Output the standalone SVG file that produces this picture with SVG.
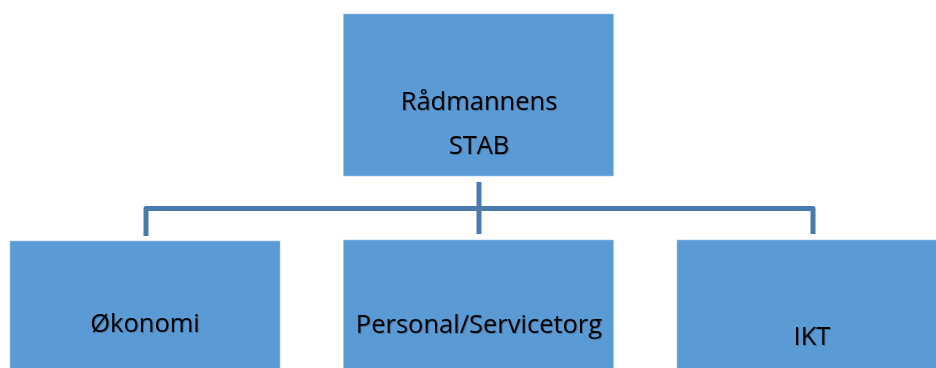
<svg xmlns="http://www.w3.org/2000/svg" width="936" height="368" viewBox="0 0 936 368">
<defs>
<filter id="sh" x="-5%" y="-20%" width="110%" height="140%">
<feDropShadow dx="0.8" dy="0.8" stdDeviation="0.6" flood-color="#000" flood-opacity="0.35"/>
</filter>
</defs>
<style>
.box{fill:#5B9BD5;stroke:#9DC3E6;stroke-width:0.6}
.lbl{font-family:"Open Sans","Liberation Sans",sans-serif;font-size:25.5px;fill:#000;text-anchor:middle;filter:url(#sh)}
.con{fill:none;stroke:#4A7AAB;stroke-width:5;stroke-linejoin:round}
</style>
<rect width="936" height="368" fill="#fff"/>
<g id="connectors">
<path class="con" d="M146 236 V208.5 H813 V234"/>
<path class="con" d="M479 182 V234"/>
</g>
<g id="node-stab">
<rect class="box" x="343.5" y="14" width="270" height="162"/>
<text class="lbl" x="479" y="110">Rådmannens</text>
<text class="lbl" x="479" y="154">STAB</text>
</g>
<g id="node-okonomi">
<rect class="box" x="10" y="241" width="270" height="130"/>
<text class="lbl" x="145" y="332">Økonomi</text>
</g>
<g id="node-personal">
<rect class="box" x="343.5" y="240" width="270" height="131"/>
<text class="lbl" x="479" y="333">Personal/Servicetorg</text>
</g>
<g id="node-ikt">
<rect class="box" x="677" y="240" width="262" height="131"/>
<text class="lbl" x="812" y="345">IKT</text>
</g>
</svg>
